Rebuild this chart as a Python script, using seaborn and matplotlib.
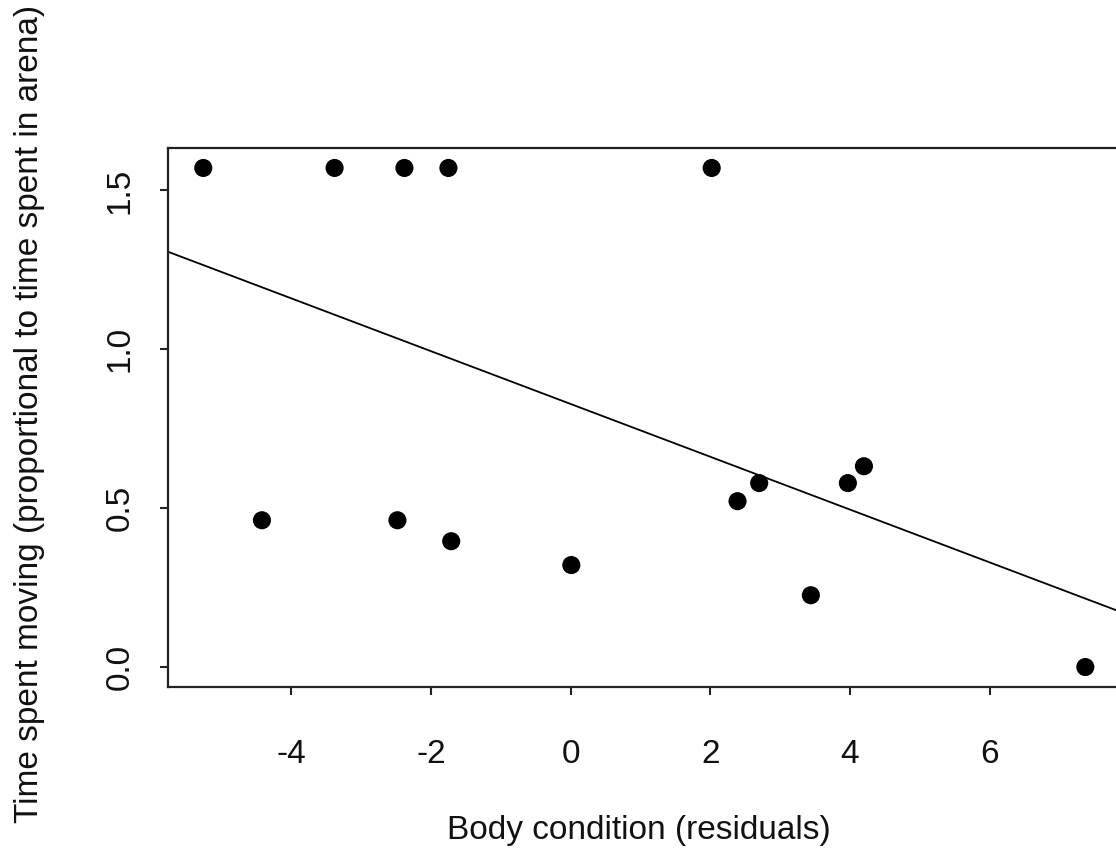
import numpy as np
import pandas as pd
import seaborn as sns
import matplotlib
matplotlib.use("Agg")
import matplotlib.pyplot as plt

# Data
body_condition = [-5.26, -3.38, -2.38, -1.75, 2.02,
                  -4.42, -2.48, -1.71, 0.01, 2.39,
                  2.70, 3.44, 3.97, 4.20, 7.37]
time_moving = [1.5708, 1.5708, 1.5708, 1.5708, 1.5708,
               0.462, 0.462, 0.396, 0.321, 0.522,
               0.579, 0.226, 0.579, 0.632, 0.0]
fit_intercept = 0.828
fit_slope = -0.0831
x_ticks = [-4, -2, 0, 2, 4, 6]
y_ticks = [0.0, 0.5, 1.0, 1.5]
y_tick_labels = ["0.0", "0.5", "1.0", "1.5"]

df = pd.DataFrame({"x": body_condition, "y": time_moving})

sns.set_theme(style="white")
plt.rcParams["font.family"] = ["Liberation Sans", "DejaVu Sans"]

fig = plt.figure(figsize=(11.16, 8.51), dpi=100)
ax_left, ax_right, ax_top, ax_bottom = 168, 1120.6, 148, 687
ax = fig.add_axes([ax_left / 1116, (851 - ax_bottom) / 851,
                   (ax_right - ax_left) / 1116, (ax_bottom - ax_top) / 851])

sns.scatterplot(data=df, x="x", y="y", ax=ax, s=170, color="black",
                edgecolor="none", linewidth=0)

# R-style limits (4% expansion)
xr = max(body_condition) - min(body_condition)
yr = max(time_moving) - min(time_moving)
xlim = (min(body_condition) - 0.04 * xr, max(body_condition) + 0.04 * xr)
ylim = (min(time_moving) - 0.04 * yr, max(time_moving) + 0.04 * yr)

xs = np.array(xlim)
ax.plot(xs, fit_intercept + fit_slope * xs, color="black", lw=1.3)

ax.set_xlim(*xlim)
ax.set_ylim(*ylim)

ax.set_xticks(x_ticks)
ax.set_xticklabels([str(t) for t in x_ticks])
ax.set_yticks(y_ticks)
ax.set_yticklabels(y_tick_labels, rotation=90, va="center")

ax.tick_params(axis="both", direction="out", length=5.5, width=1.5, color="#222222",
               labelsize=24, labelcolor="#111111")
ax.tick_params(axis="x", pad=32, bottom=True)
ax.tick_params(axis="y", pad=18, left=True)

for sp in ax.spines.values():
    sp.set_color("#222222")
    sp.set_linewidth(1.6)
    sp.set_visible(True)

ax.set_xlabel("Body condition (residuals)", fontsize=24, color="#111111")
ax.set_ylabel("Time spent moving (proportional to time spent in arena)", fontsize=24,
              color="#111111")
ax_w = ax_right - ax_left
ax_h = ax_bottom - ax_top
ax.xaxis.set_label_coords((639 - ax_left) / ax_w, (ax_bottom - 831) / ax_h)
ax.xaxis.label.set_va("center")
ax.yaxis.set_label_coords((30 - ax_left) / ax_w, (ax_bottom - 414) / ax_h)
ax.yaxis.label.set_va("center")

fig.savefig("out.png", dpi=100)
